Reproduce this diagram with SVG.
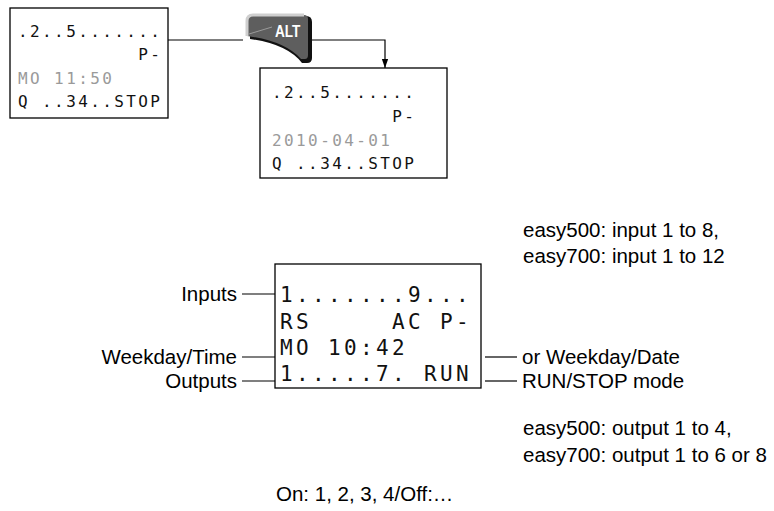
<svg xmlns="http://www.w3.org/2000/svg" width="774" height="511" viewBox="0 0 774 511">
<style>
.lcd{font-family:"DejaVu Sans Mono","Liberation Mono",monospace;fill:#111}
.s{font-size:16px;letter-spacing:2.4px}
.b{font-size:21px;letter-spacing:3.35px}
.g{fill:#9a9a9a}
.lbl{font-family:"Liberation Sans",Arial,sans-serif;font-size:20.5px;fill:#000}
.box{fill:#fff;stroke:#000;stroke-width:1.3}
.ln{fill:none;stroke:#000;stroke-width:1.2}
</style>
<defs>
<marker id="arr" viewBox="0 0 10 10" refX="10" refY="5" markerWidth="9" markerHeight="14" markerUnits="userSpaceOnUse" orient="auto">
<path d="M0,1.5 L10,5 L0,8.5 Z" fill="#000"/>
</marker>
</defs>
<rect width="774" height="511" fill="#fff"/>
<g id="connectors">
<line class="ln" x1="168" y1="40" x2="243" y2="40"/>
<polyline class="ln" points="312,40 385,40 385,68" marker-end="url(#arr)"/>
<line class="ln" x1="242" y1="294" x2="275" y2="294"/>
<line class="ln" x1="242" y1="357" x2="275" y2="357"/>
<line class="ln" x1="242" y1="381" x2="275" y2="381"/>
<line class="ln" x1="485" y1="357" x2="517" y2="357"/>
<line class="ln" x1="485" y1="381" x2="517" y2="381"/>
</g>
<g id="display1">
<rect class="box" x="10" y="8" width="158" height="110"/>
<text class="lcd s" x="18" y="37" xml:space="preserve">.2..5.......</text>
<text class="lcd s" x="18" y="60" xml:space="preserve">          P-</text>
<text class="lcd s g" x="18" y="84" xml:space="preserve">MO 11:50</text>
<text class="lcd s" x="18" y="107" xml:space="preserve">Q ..34..STOP</text>
</g>
<g id="alt-key">
<path d="M250,22 Q250,16 256,16 L306,16 Q312,16 312,22 L312,58 Q312,63 307,63 L302,63 Q287,44 250,39 Z" fill="#111"/>
<path d="M247,21 Q247,15 253,15 L304,15 Q308,15 308,19 L308,55 Q308,59 305,59 L301,59 Q285,41 247,36 Z" fill="#5e5e5e"/>
<path d="M247,36 L247,21 Q247,15 253,15 L304,15" fill="none" stroke="#cfcfcf" stroke-width="3"/>
<path d="M249,34 L272,27" fill="none" stroke="#9a9a9a" stroke-width="1"/>
<text transform="translate(275,37) scale(0.8,1)" x="0" y="0" style="font-family:'Liberation Sans',Arial,sans-serif;font-weight:bold;font-size:17px" fill="#fff">ALT</text>
</g>
<g id="display2">
<rect class="box" x="260" y="68" width="187" height="110"/>
<text class="lcd s" x="272" y="98" xml:space="preserve">.2..5.......</text>
<text class="lcd s" x="272" y="122" xml:space="preserve">          P-</text>
<text class="lcd s g" x="272" y="146" xml:space="preserve">2010-04-01</text>
<text class="lcd s" x="272" y="169" xml:space="preserve">Q ..34..STOP</text>
</g>
<g id="main-display">
<rect class="box" x="275" y="264" width="206" height="124"/>
<text class="lcd b" x="280" y="302" xml:space="preserve">1.......9...</text>
<text class="lcd b" x="280" y="329" xml:space="preserve">RS     AC P-</text>
<text class="lcd b" x="280" y="355" xml:space="preserve">MO 10:42</text>
<text class="lcd b" x="280" y="381" xml:space="preserve">1.....7. RUN</text>
</g>
<g id="labels">
<text class="lbl" x="237" y="301" text-anchor="end">Inputs</text>
<text class="lbl" x="237" y="364" text-anchor="end">Weekday/Time</text>
<text class="lbl" x="237" y="388" text-anchor="end">Outputs</text>
<text class="lbl" x="522" y="364">or Weekday/Date</text>
<text class="lbl" x="522" y="388">RUN/STOP mode</text>
<text class="lbl" x="523" y="237">easy500: input 1 to 8,</text>
<text class="lbl" x="523" y="263">easy700: input 1 to 12</text>
<text class="lbl" x="523" y="435">easy500: output 1 to 4,</text>
<text class="lbl" x="523" y="462">easy700: output 1 to 6 or 8</text>
<text class="lbl" x="276" y="501">On: 1, 2, 3, 4/Off:…</text>
</g>
</svg>
